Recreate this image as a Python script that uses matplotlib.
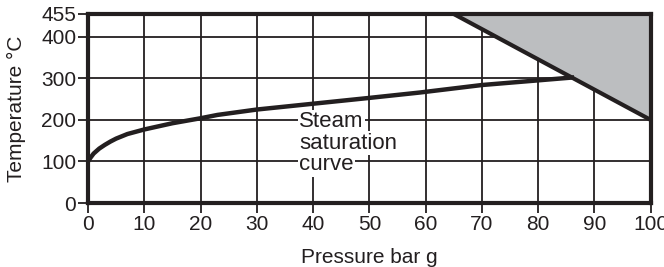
import numpy as np
import matplotlib.pyplot as plt

plt.rcParams['font.family'] = ['Liberation Sans', 'DejaVu Sans']

# steam saturation curve
pressure = [0, 0.5, 1, 2, 3, 4, 5, 7, 10, 15, 20, 23, 30, 40, 50, 59, 70, 86]
temperature = [100, 110, 119, 131, 140, 148, 155, 166, 177, 192, 204, 212, 225, 239, 253, 266, 284, 302]

# shaded limit region (triangle)
limit_p = [65, 100, 100]
limit_t = [455, 455, 200]

x_ticks = [0, 10, 20, 30, 40, 50, 60, 70, 80, 90, 100]
y_ticks = [0, 100, 200, 300, 400, 455]
label_lines = ['Steam', 'saturation', 'curve']

ink = '#231f20'

fig = plt.figure(figsize=(6.64, 2.67), dpi=100)
ax = fig.add_axes([0.1325, 0.2397, 0.8475, 0.7079])

ax.set_xlim(0, 100)
ax.set_ylim(0, 455)

# grid
for x in x_ticks[1:-1]:
    ax.axvline(x, color=ink, lw=1.3, zorder=1)
for y in [100, 200, 300, 400]:
    ax.axhline(y, color=ink, lw=1.3, zorder=1)

ax.fill(limit_p, limit_t, color='#bcbec0', zorder=2)
ax.plot([limit_p[0], limit_p[2]], [limit_t[0], limit_t[2]], color=ink, lw=3, zorder=3,
        solid_capstyle='butt')
ax.plot(pressure, temperature, color=ink, lw=3.2, zorder=3)

for i, line in enumerate(label_lines):
    ax.text(37.5, 183 - i * 52, line, fontsize=16, color=ink, va='baseline', ha='left',
            zorder=4, bbox=dict(facecolor='white', edgecolor='none', pad=1.0))

ax.set_xticks(x_ticks)
ax.set_yticks(y_ticks)
ax.tick_params(direction='out', length=7, width=1.3, color=ink, labelsize=15,
               labelcolor=ink, pad=1.5)
for s in ax.spines.values():
    s.set_linewidth(3)
    s.set_color(ink)
    s.set_zorder(5)

ax.set_xlabel('Pressure bar g', fontsize=15, color=ink, labelpad=10)
ax.set_ylabel('Temperature °C', fontsize=15, color=ink, labelpad=11)

fig.savefig('out.png', dpi=100)
